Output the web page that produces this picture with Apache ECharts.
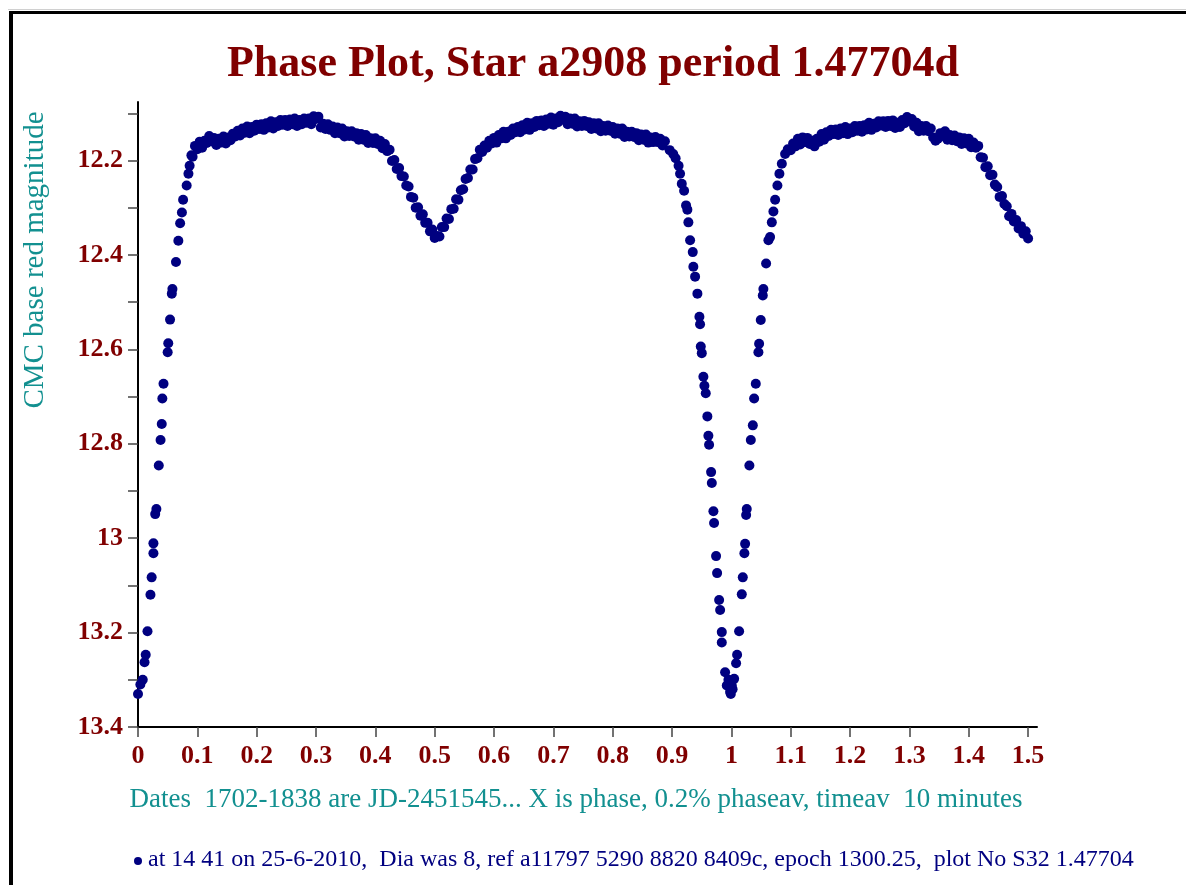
<!DOCTYPE html>
<html>
<head>
<meta charset="utf-8">
<script src="https://cdn.jsdelivr.net/npm/echarts@6/dist/echarts.min.js"></script>
<style>
html,body{margin:0;padding:0;background:#fff;}
#chart{width:1186px;height:885px;}
</style>
</head>
<body>
<div id="chart"></div>
<script>
// ---- tick labels ----
const xTicks = [0,0.1,0.2,0.3,0.4,0.5,0.6,0.7,0.8,0.9,1,1.1,1.2,1.3,1.4,1.5];
const yTicks = [12.1,12.2,12.3,12.4,12.5,12.6,12.7,12.8,12.9,13,13.1,13.2,13.3,13.4];
const yLabels = [12.2,12.4,12.6,12.8,13,13.2,13.4];

// ---- data: [phase, magnitude] ----
const egress0 = [[0.000,13.330],[0.004,13.310],[0.008,13.300],[0.011,13.263],[0.013,13.247],[0.016,13.197],[0.021,13.120],[0.023,13.083],[0.026,13.032],[0.026,13.011],[0.029,12.949],[0.031,12.938],[0.035,12.846],[0.038,12.792],[0.040,12.758],[0.041,12.704],[0.043,12.673],[0.050,12.606],[0.051,12.587],[0.054,12.537],[0.057,12.482],[0.058,12.472],[0.064,12.415],[0.068,12.370],[0.071,12.333],[0.074,12.310],[0.076,12.283],[0.082,12.253],[0.085,12.228],[0.087,12.211],[0.090,12.189]];

const plateauA = [[0.092,12.192],[0.096,12.169],[0.100,12.176],[0.104,12.160],[0.108,12.173],[0.112,12.158],[0.116,12.163],[0.120,12.148],[0.124,12.159],[0.128,12.152],[0.132,12.167],[0.136,12.154],[0.140,12.162],[0.144,12.149],[0.148,12.164],[0.152,12.151],[0.156,12.157],[0.160,12.143],[0.164,12.149],[0.168,12.137],[0.172,12.147],[0.176,12.132],[0.180,12.141],[0.184,12.128],[0.188,12.142],[0.192,12.129],[0.196,12.137],[0.200,12.124],[0.204,12.133],[0.208,12.123],[0.212,12.135],[0.216,12.121],[0.220,12.130],[0.224,12.117],[0.228,12.132],[0.232,12.119],[0.236,12.127],[0.240,12.114],[0.244,12.124],[0.248,12.114],[0.252,12.127],[0.256,12.113],[0.260,12.123],[0.264,12.111],[0.268,12.127],[0.272,12.114],[0.276,12.123],[0.280,12.111],[0.284,12.120],[0.288,12.111],[0.292,12.123],[0.296,12.106],[0.300,12.112],[0.304,12.107],[0.308,12.130],[0.312,12.122],[0.316,12.133],[0.320,12.123],[0.324,12.135],[0.328,12.128],[0.332,12.142],[0.336,12.130],[0.340,12.142],[0.344,12.132],[0.348,12.149],[0.352,12.138],[0.356,12.148],[0.360,12.138],[0.364,12.149],[0.368,12.142],[0.372,12.156],[0.376,12.144],[0.380,12.156],[0.384,12.146],[0.388,12.163],[0.392,12.153],[0.396,12.163],[0.400,12.153],[0.404,12.165],[0.408,12.158],[0.412,12.174],[0.416,12.165],[0.420,12.180],[0.424,12.177],[0.428,12.201],[0.432,12.199],[0.436,12.218],[0.440,12.216],[0.444,12.233],[0.448,12.234],[0.452,12.253],[0.456,12.255],[0.460,12.277],[0.464,12.279],[0.468,12.300],[0.472,12.299],[0.476,12.317],[0.480,12.314],[0.484,12.332],[0.488,12.332],[0.492,12.350],[0.496,12.346],[0.500,12.364],[0.504,12.360],[0.508,12.361],[0.512,12.341],[0.516,12.341],[0.520,12.323],[0.524,12.324],[0.528,12.303],[0.532,12.302],[0.536,12.282],[0.540,12.283],[0.544,12.263],[0.548,12.261],[0.552,12.239],[0.556,12.237],[0.560,12.219],[0.564,12.219],[0.568,12.197],[0.572,12.195],[0.576,12.177],[0.580,12.182]];

const plateauB = [[0.584,12.168],[0.588,12.173],[0.592,12.158],[0.596,12.164],[0.600,12.152],[0.604,12.162],[0.608,12.146],[0.612,12.153],[0.616,12.139],[0.620,12.153],[0.624,12.139],[0.628,12.146],[0.632,12.132],[0.636,12.140],[0.640,12.129],[0.644,12.140],[0.648,12.125],[0.652,12.134],[0.656,12.120],[0.660,12.135],[0.664,12.121],[0.668,12.129],[0.672,12.116],[0.676,12.125],[0.680,12.115],[0.684,12.127],[0.688,12.113],[0.692,12.122],[0.696,12.109],[0.700,12.124],[0.704,12.111],[0.708,12.119],[0.712,12.105],[0.716,12.113],[0.720,12.107],[0.724,12.123],[0.728,12.111],[0.732,12.122],[0.736,12.111],[0.740,12.128],[0.744,12.117],[0.748,12.127],[0.752,12.116],[0.756,12.127],[0.760,12.119],[0.764,12.133],[0.768,12.121],[0.772,12.132],[0.776,12.121],[0.780,12.138],[0.784,12.127],[0.788,12.137],[0.792,12.126],[0.796,12.137],[0.800,12.129],[0.804,12.143],[0.808,12.132],[0.812,12.143],[0.816,12.132],[0.820,12.150],[0.824,12.139],[0.828,12.149],[0.832,12.139],[0.836,12.150],[0.840,12.142],[0.844,12.157],[0.848,12.145],[0.852,12.156],[0.856,12.145],[0.860,12.162],[0.864,12.151],[0.868,12.161],[0.872,12.150],[0.876,12.161],[0.880,12.154],[0.884,12.168],[0.888,12.159]];

const ingress1 = [[0.896,12.178],[0.902,12.186],[0.906,12.195],[0.911,12.211],[0.9135,12.228],[0.9164,12.249],[0.9203,12.264],[0.9236,12.295],[0.9258,12.304],[0.9275,12.331],[0.9304,12.369],[0.9349,12.394],[0.9359,12.425],[0.9388,12.446],[0.9427,12.482],[0.9461,12.531],[0.9472,12.547],[0.9484,12.594],[0.9501,12.608],[0.9528,12.658],[0.9545,12.677],[0.9568,12.693],[0.9595,12.742],[0.9612,12.783],[0.9624,12.802],[0.9658,12.860],[0.9670,12.883],[0.9697,12.943],[0.9708,12.968],[0.9742,13.038],[0.9759,13.074],[0.9793,13.131],[0.9810,13.152],[0.9838,13.199],[0.9838,13.221],[0.9894,13.284],[0.9922,13.312],[0.9950,13.300],[0.9978,13.326],[0.9990,13.330],[1.0007,13.312],[1.0020,13.320],[1.0046,13.298]];

const egress1 = [[1.0079,13.265],[1.0096,13.247],[1.0130,13.197],[1.0175,13.119],[1.0192,13.083],[1.0219,13.032],[1.0231,13.012],[1.0248,12.951],[1.0259,12.938],[1.0303,12.846],[1.0327,12.792],[1.0361,12.761],[1.0383,12.704],[1.0411,12.673],[1.0455,12.606],[1.0467,12.588],[1.0495,12.538],[1.0529,12.486],[1.0539,12.472],[1.0585,12.418],[1.0624,12.369],[1.0652,12.362],[1.0681,12.331],[1.0708,12.308],[1.0737,12.283],[1.0775,12.253],[1.0809,12.228],[1.0850,12.207],[1.0905,12.186],[1.0950,12.176]];

const plateauC = [[1.100,12.178],[1.104,12.164],[1.108,12.170],[1.112,12.154],[1.116,12.166],[1.120,12.151],[1.124,12.161],[1.128,12.152],[1.132,12.165],[1.136,12.158],[1.140,12.170],[1.144,12.154],[1.148,12.160],[1.152,12.144],[1.156,12.156],[1.160,12.140],[1.164,12.148],[1.168,12.135],[1.172,12.144],[1.176,12.134],[1.180,12.146],[1.184,12.132],[1.188,12.142],[1.192,12.129],[1.196,12.144],[1.200,12.132],[1.204,12.140],[1.208,12.127],[1.212,12.137],[1.216,12.127],[1.220,12.139],[1.224,12.125],[1.228,12.134],[1.232,12.120],[1.236,12.135],[1.240,12.122],[1.244,12.130],[1.248,12.117],[1.252,12.126],[1.256,12.117],[1.260,12.129],[1.264,12.116],[1.268,12.127],[1.272,12.115],[1.276,12.131],[1.280,12.120],[1.284,12.129],[1.288,12.114],[1.292,12.121],[1.296,12.108],[1.300,12.116],[1.304,12.112],[1.308,12.128],[1.312,12.120],[1.316,12.138],[1.320,12.127],[1.324,12.137],[1.328,12.127],[1.332,12.138],[1.336,12.132],[1.340,12.151],[1.344,12.158],[1.348,12.154],[1.352,12.142],[1.356,12.148],[1.360,12.138],[1.364,12.156],[1.368,12.146],[1.372,12.157],[1.376,12.147],[1.380,12.159],[1.384,12.151],[1.388,12.165],[1.392,12.153],[1.396,12.164],[1.400,12.154],[1.404,12.172],[1.408,12.162],[1.412,12.173],[1.416,12.169],[1.420,12.193],[1.424,12.194],[1.428,12.214],[1.432,12.212],[1.436,12.231],[1.440,12.230],[1.444,12.251],[1.448,12.256],[1.452,12.277],[1.456,12.275],[1.460,12.292],[1.464,12.297],[1.468,12.318],[1.472,12.313],[1.476,12.329],[1.480,12.326],[1.484,12.344],[1.488,12.339],[1.492,12.355],[1.496,12.350],[1.500,12.365]];

const titleText = 'Phase Plot, Star a2908 period 1.47704d';
const yName = 'CMC base red magnitude';
const xName = 'Dates  1702-1838 are JD-2451545... X is phase, 0.2% phaseav, timeav  10 minutes';
const footer = 'at 14 41 on 25-6-2010,  Dia was 8, ref a11797 5290 8820 8409c, epoch 1300.25,  plot No S32 1.47704';

const allPoints = [].concat(egress0, plateauA, plateauB, ingress1, egress1, plateauC);

const chart = echarts.init(document.getElementById('chart'), null, {renderer:'canvas'});
const serif = '"Liberation Serif", "Times New Roman", serif';
const red = '#800000';
const teal = '#129090';
const navy = '#000080';

chart.setOption({
  animation: false,
  backgroundColor: '#ffffff',
  title: {
    text: titleText,
    left: 'center',
    top: 38,
    textStyle: {fontFamily: serif, fontWeight: 'bold', fontSize: 44, color: red}
  },
  grid: {left: 138, top: 102, width: 899, height: 625},
  xAxis: {
    type: 'value', min: 0, max: 1.515,
    axisLine: {show: true, onZero: false, lineStyle: {color: '#000', width: 2}},
    axisTick: {show: true, length: 10, customValues: xTicks, lineStyle: {color: '#444', width: 1.5}},
    axisLabel: {customValues: xTicks, margin: 16, fontFamily: serif, fontWeight: 'bold', fontSize: 26, color: red},
    splitLine: {show: false}
  },
  yAxis: {
    type: 'value', min: 12.076, max: 13.4, inverse: true,
    axisLine: {show: true, onZero: false, lineStyle: {color: '#000', width: 2}},
    axisTick: {show: true, length: 10, customValues: yTicks, lineStyle: {color: '#444', width: 1.5}},
    axisLabel: {customValues: yLabels, margin: 15, fontFamily: serif, fontWeight: 'bold', fontSize: 26, color: red},
    splitLine: {show: false}
  },
  series: [{
    type: 'scatter',
    data: allPoints,
    symbol: 'circle',
    symbolSize: 10,
    itemStyle: {color: navy, opacity: 1},
    silent: true
  }],
  graphic: [
    {type: 'rect', shape: {x: 8, y: 9, width: 1178, height: 1}, style: {fill: '#d0d0d0'}, silent: true},
    {type: 'rect', shape: {x: 9, y: 11, width: 1177, height: 3}, style: {fill: '#000'}, silent: true},
    {type: 'rect', shape: {x: 9, y: 11, width: 4, height: 874}, style: {fill: '#000'}, silent: true},
    {type: 'text', x: 35, y: 260, rotation: Math.PI / 2,
      style: {text: yName, fontFamily: serif, fontSize: 29, fill: teal, align: 'center', verticalAlign: 'middle'}, silent: true},
    {type: 'text', x: 576, y: 800,
      style: {text: xName, fontFamily: serif, fontSize: 27, fill: teal, align: 'center', verticalAlign: 'middle'}, silent: true},
    {type: 'circle', shape: {cx: 138, cy: 861, r: 4}, style: {fill: navy}, silent: true},
    {type: 'text', x: 148, y: 860,
      style: {text: footer, fontFamily: serif, fontSize: 24, fill: navy, align: 'left', verticalAlign: 'middle'}, silent: true}
  ]
});
</script>
</body>
</html>
